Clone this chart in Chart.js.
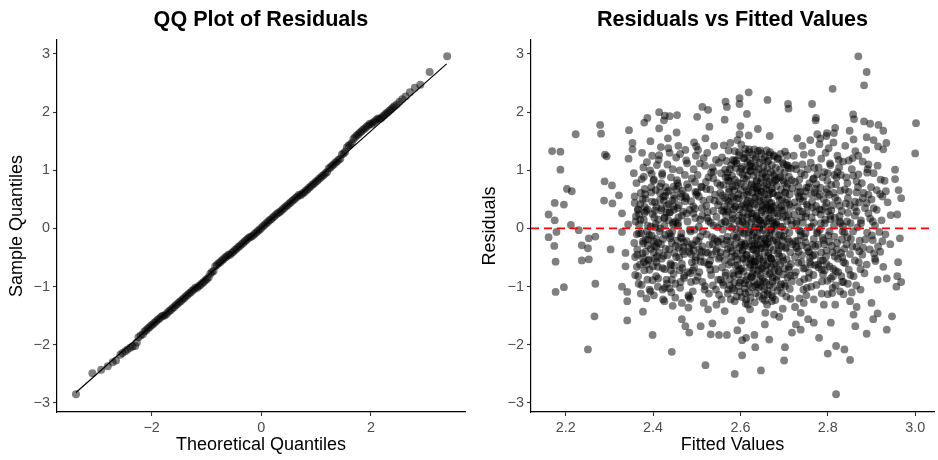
<!DOCTYPE html>
<html>
<head>
<meta charset="utf-8">
<title>Residual diagnostics</title>
<script src="https://cdn.jsdelivr.net/npm/chart.js@4.4.1/dist/chart.umd.min.js"></script>
<style>
  html, body { margin: 0; padding: 0; background: #ffffff; }
  #wrap { position: relative; width: 938px; height: 460px; overflow: hidden; }
  canvas { position: absolute; top: 0; }
  #qqChart { left: 0; }
  #residChart { left: 469px; }
</style>
</head>
<body>
<div id="wrap">
  <canvas id="qqChart" width="469" height="460"></canvas>
  <canvas id="residChart" width="469" height="460"></canvas>
</div>
<script>
const FONT = "'Liberation Sans', Arial, Helvetica, sans-serif";
const MINUS = '\u2212';

// Tick labels
const qqXTicks = [-2, 0, 2];
const yTicks = [-3, -2, -1, 0, 1, 2, 3];
const fitXTicks = [2.2, 2.4, 2.6, 2.8, 3.0];

// Axis limits (ggplot adds 5% on each side)
const qqXRange = [-3.726, 3.715];
const yRange = [-3.155, 3.24];
const fitXRange = [2.1207, 3.0431];

// QQ reference line
const qqLineX = [-3.38, 3.38];
const qqLineY = [-2.82, 2.83];

// Zero line on the residual plot
const zeroLineX = [2.1207, 3.0431];
const zeroLineY = [0, 0];

// QQ points: theoretical vs sample quantiles
const qqTheory = [
  -3.38,-3.08,-2.92,-2.80,-2.71,-2.65,-2.57,-2.53,-2.48,-2.44,
  -2.39,-2.35,-2.30,-2.27,-2.24,-2.20,-2.16,
  -2.13,-2.10,-2.07,-2.04,-2.01,-1.98,-1.95,-1.92,-1.89,-1.86,
  -1.83,-1.80,-1.77,-1.74,-1.71,-1.68,-1.65,-1.62,-1.59,-1.56,
  -1.53,-1.50,-1.47,-1.44,-1.41,-1.38,-1.35,-1.32,-1.29,-1.26,
  -1.23,-1.20,-1.17,-1.14,-1.11,-1.08,-1.05,-1.02,-0.99,-0.96,
  -0.93,-0.90,-0.87,-0.84,-0.81,-0.78,-0.75,-0.72,-0.69,-0.66,
  -0.63,-0.60,-0.57,-0.54,-0.51,-0.48,-0.45,-0.42,-0.39,-0.36,
  -0.33,-0.30,-0.27,-0.24,-0.21,-0.18,-0.15,-0.12,-0.09,-0.06,
  -0.03,0.00,0.03,0.06,0.09,0.12,0.15,0.18,0.21,0.24,
  0.27,0.30,0.33,0.36,0.39,0.42,0.45,0.48,0.51,0.54,
  0.57,0.60,0.63,0.66,0.69,0.72,0.75,0.78,0.81,0.84,
  0.87,0.90,0.93,0.96,0.99,1.02,1.05,1.08,1.11,1.14,
  1.17,1.20,1.23,1.26,1.29,1.32,1.35,1.38,1.41,1.44,
  1.47,1.50,1.53,1.56,1.59,1.62,1.65,1.68,1.71,1.74,
  1.77,1.80,1.83,1.86,1.89,1.92,1.95,1.98,2.01,2.04,
  2.07,2.10,2.13,2.16,2.19,2.22,2.25,2.28,2.31,2.34,
  2.37,2.40,
  2.43,2.47,2.52,2.57,2.63,2.71,2.80,2.90,3.07,3.39
];
const qqSample = [
  -2.85,-2.49,-2.43,-2.37,-2.30,-2.27,-2.17,-2.14,-2.11,-2.08,
  -2.05,-2.03,-2.02,-1.96,-1.87,-1.84,-1.82,
  -1.77,-1.75,-1.72,-1.70,-1.67,-1.65,-1.62,-1.60,-1.57,-1.55,
  -1.52,-1.50,-1.50,-1.48,-1.45,-1.42,-1.40,-1.37,-1.35,-1.32,
  -1.30,-1.27,-1.25,-1.22,-1.20,-1.17,-1.15,-1.12,-1.10,-1.07,
  -1.05,-1.02,-1.02,-0.99,-0.97,-0.94,-0.92,-0.89,-0.87,-0.84,
  -0.78,-0.75,-0.73,-0.65,-0.63,-0.60,-0.58,-0.55,-0.53,-0.50,
  -0.48,-0.45,-0.45,-0.42,-0.40,-0.37,-0.35,-0.32,-0.30,-0.27,
  -0.25,-0.22,-0.20,-0.17,-0.15,-0.14,-0.12,-0.09,-0.07,-0.04,
  -0.02,0.01,0.04,0.06,0.09,0.11,0.14,0.16,0.19,0.21,
  0.24,0.26,0.28,0.30,0.33,0.35,0.38,0.40,0.43,0.45,
  0.48,0.50,0.53,0.55,0.58,0.57,0.60,0.62,0.65,0.67,
  0.70,0.72,0.75,0.77,0.80,0.82,0.85,0.87,0.90,0.92,
  0.95,0.97,1.03,1.05,1.08,1.10,1.13,1.15,1.18,1.20,
  1.27,1.29,1.32,1.39,1.42,1.44,1.47,1.54,1.57,1.60,
  1.62,1.65,1.67,1.70,1.72,1.75,1.77,1.80,1.79,1.82,
  1.84,1.87,1.89,1.88,1.90,1.93,1.95,1.98,2.00,2.03,
  2.05,2.08,
  2.10,2.13,2.18,2.22,2.27,2.34,2.42,2.47,2.69,2.96
];

// Residuals vs fitted values
const fitted = [
  // far left
  2.161,2.161,2.169,2.188,2.188,2.175,2.196,2.175,2.179,2.174,
  2.177,2.177,2.196,2.203,2.214,2.223,2.212,2.230,2.237,2.237,
  2.251,2.253,2.253,2.268,2.268,2.266,2.251,2.279,2.281,2.290,
  2.294,2.289,2.288,2.306,2.307,2.303,2.322,2.329,2.329,2.337,
  2.341,2.341,2.341,2.337,2.344,2.345,2.353,2.353,2.329,2.343,
  // upper edge
  2.870,2.889,2.883,2.811,2.817,2.814,2.619,2.598,2.598,2.615,
  2.566,2.569,2.564,2.662,2.709,2.710,2.764,2.773,2.772,2.858,
  2.860,2.883,2.927,2.916,3.002,3.000,2.501,2.513,2.526,2.529,
  2.414,2.427,2.438,2.455,2.425,2.387,2.380,2.598,2.600,2.619,
  2.640,2.667,2.859,2.798,2.783,2.797,2.889,2.934,2.915,2.927,
  2.888,2.863,
  // right and lower edge
  2.954,2.954,2.968,2.962,2.959,2.965,2.923,2.943,2.961,2.959,
  2.968,2.957,2.927,2.914,2.935,2.947,2.935,2.900,2.914,2.904,
  2.889,2.863,2.859,2.851,2.866,2.851,2.838,2.819,2.800,2.819,
  2.807,2.780,2.768,2.738,2.727,2.718,2.702,2.700,2.689,2.677,
  2.666,2.647,2.634,2.632,2.622,2.604,2.604,2.613,2.602,2.593,
  2.587,2.569,2.551,2.532,2.536,2.520,2.509,2.443,2.483,2.474,
  2.466,2.399,2.377,2.445,2.466,2.481,2.485,2.426,2.564,2.587,
  2.557,2.545,2.526,2.516,2.656,2.657,2.672,2.738,2.755,2.745,
  2.768,2.791,2.800,2.810,2.817,2.836,
  // right band
  2.855,2.870,2.878,2.890,2.893,2.900,2.905,2.912,2.920,2.925,
  2.933,2.937,2.944,2.930,2.880,2.866,2.872,2.885,2.897,2.908,
  2.918,2.925,2.932,2.915,2.903,2.890,2.876,2.862,2.851,2.848,
  2.845,2.858,2.866,2.879,2.889,2.896,2.908,2.920,2.875,2.862,
  2.852,2.865,2.875,2.855,2.846,2.840,2.838,2.845,2.844,2.880,
  2.870,2.893,2.905,2.914,2.848,2.840,2.905,2.897,2.850,
  // 2.72 - 2.84
  2.722,2.728,2.725,2.731,2.724,2.735,2.729,2.738,2.726,2.733,
  2.740,2.727,2.736,2.744,2.742,2.747,2.751,2.745,2.754,2.749,
  2.757,2.746,2.753,2.759,2.748,2.756,2.762,2.751,2.763,2.766,
  2.770,2.764,2.772,2.768,2.775,2.765,2.771,2.778,2.767,2.774,
  2.781,2.785,2.779,2.788,2.783,2.791,2.786,2.794,2.782,2.790,
  2.797,2.784,2.793,2.799,2.786,2.802,2.805,2.800,2.808,2.803,
  2.811,2.806,2.814,2.801,2.809,2.816,2.804,2.812,2.818,2.822,
  2.826,2.820,2.829,2.823,2.832,2.827,2.834,2.821,2.830,2.836,
  2.824,2.833,2.828,2.830,2.835,2.776,2.760,2.742,2.730,2.795,
  2.813,2.758,2.739,2.743,2.761,2.777,2.797,2.815,2.789,2.735,
  2.725,
  // 2.35 - 2.50
  2.356,2.362,2.358,2.365,2.360,2.368,2.357,2.364,2.370,2.359,
  2.367,2.372,2.363,2.375,2.378,2.374,2.381,2.376,2.384,2.379,
  2.386,2.377,2.383,2.389,2.380,2.387,2.392,2.385,2.394,2.398,
  2.393,2.401,2.396,2.404,2.399,2.406,2.397,2.403,2.409,2.400,
  2.407,2.411,2.402,2.414,2.418,2.413,2.421,2.416,2.424,2.419,
  2.426,2.417,2.423,2.429,2.420,2.427,2.431,2.422,2.434,2.438,
  2.433,2.441,2.436,2.444,2.439,2.446,2.437,2.443,2.449,2.440,
  2.447,2.451,2.442,2.454,2.458,2.453,2.461,2.456,2.464,2.459,
  2.466,2.457,2.463,2.469,2.460,2.467,2.471,2.462,2.474,2.478,
  2.473,2.481,2.476,2.484,2.479,2.486,2.477,2.483,2.489,2.480,
  2.487,2.491,2.482,2.494,2.498,2.493,2.496,2.499,2.492,2.497,
  2.495,2.499,2.493,2.497,2.491,2.498,2.371,2.388,2.408,2.425,
  2.452,2.468,2.385,2.412,2.432,2.448,2.366,2.395,
  // 2.50 - 2.55
  2.503,2.507,2.502,2.510,2.505,2.512,2.508,2.514,2.504,2.511,
  2.517,2.506,2.513,2.518,2.520,2.524,2.519,2.527,2.522,2.530,
  2.525,2.532,2.523,2.529,2.535,2.526,2.533,2.537,2.528,2.540,
  2.544,2.539,2.547,2.542,2.549,2.545,2.548,2.541,2.546,2.550,
  2.543,2.549,2.544,2.538,2.515,2.531,2.521,2.547,2.509,2.536,
  // dense core 2.55 - 2.72
  2.551,2.554,2.552,2.556,2.550,2.553,2.555,2.551,2.554,
  2.558,2.556,2.559,2.557,2.560,2.555,2.558,2.561,2.557,
  2.562,2.565,2.561,2.563,2.566,2.562,2.564,2.560,2.565,
  2.568,2.566,2.569,2.567,2.570,2.568,2.566,2.571,2.569,
  2.573,2.571,2.574,2.572,2.575,2.571,2.573,2.576,2.572,
  2.577,2.579,2.576,2.578,2.580,2.577,2.579,2.576,2.578,
  2.583,2.581,2.584,2.582,2.585,2.581,2.583,2.586,2.582,
  2.587,2.589,2.586,2.588,2.590,2.587,2.589,2.586,2.588,
  2.593,2.591,2.594,2.592,2.595,2.591,2.593,2.596,2.592,
  2.597,2.599,2.596,2.598,2.600,2.597,2.599,2.596,2.598,
  2.602,2.604,2.601,2.603,2.605,2.602,2.604,2.601,2.603,
  2.607,2.605,2.608,2.606,2.609,2.605,2.607,2.610,2.606,
  2.611,2.613,2.610,2.612,2.614,2.611,2.613,2.610,2.612,
  2.616,2.614,2.617,2.615,2.618,2.614,2.616,2.619,2.615,
  2.620,2.622,2.619,2.621,2.623,2.620,2.622,2.619,2.621,
  2.624,2.626,2.623,2.625,2.627,2.624,2.626,2.623,2.625,
  2.628,2.630,2.627,2.629,2.631,2.628,2.630,2.627,2.629,
  2.632,2.634,2.631,2.633,2.635,2.632,2.634,2.631,2.633,
  2.636,2.638,2.635,2.637,2.639,2.636,2.638,2.635,2.637,
  2.640,2.642,2.639,2.641,2.643,2.640,2.642,2.639,2.641,
  2.644,2.646,2.643,2.645,2.647,2.644,2.646,2.643,2.645,
  2.648,2.650,2.647,2.649,2.651,2.648,2.650,2.647,2.649,
  2.652,2.654,2.651,2.653,2.655,2.652,2.654,2.651,2.653,
  2.656,2.658,2.655,2.657,2.659,2.656,2.658,2.655,2.657,
  2.660,2.662,2.659,2.661,2.663,2.660,2.662,2.659,2.661,
  2.664,2.666,2.663,2.665,2.667,2.664,2.666,2.663,2.665,
  2.668,2.670,2.667,2.669,2.671,2.668,2.670,2.667,2.669,
  2.672,2.674,2.671,2.673,2.675,2.672,2.674,2.671,2.673,
  2.676,2.678,2.675,2.677,2.679,2.676,2.678,2.675,2.677,
  2.681,2.683,2.680,2.682,2.684,2.681,2.683,2.680,2.682,
  2.686,2.688,2.685,2.687,2.689,2.686,2.688,2.685,2.687,
  2.691,2.693,2.690,2.692,2.694,2.691,2.693,2.690,2.692,
  2.696,2.698,2.695,2.697,2.699,2.696,2.698,2.695,2.697,
  2.701,2.703,2.700,2.702,2.704,2.701,2.703,2.700,2.702,
  2.706,2.708,2.705,2.707,2.709,2.706,2.708,2.705,2.707,
  2.711,2.713,2.710,2.712,2.714,2.711,2.713,2.710,2.712,
  2.716,2.718,2.715,2.717,2.719,2.716,2.718,2.715,2.717,
  // extra core points
  2.583,2.641,2.612,2.667,2.598,2.704,2.627,2.655,2.574,2.689,
  2.619,2.662,2.591,2.678,2.605,2.637,2.711,2.569,2.648,2.624,
  2.685,2.596,2.657,2.613,2.672,2.633,2.701,2.579,2.645,2.616,
  2.694,2.606,2.668,2.587,2.652,2.628,2.716,2.561,2.639,2.674,
  2.601,2.659,2.622,2.692,2.582,2.646,2.609,2.681,2.634,2.665,
  2.593,2.706,2.618,2.651,2.576,2.687,2.629,2.661,2.603,2.643,
  2.698,2.614,2.671,2.588,2.654,2.625,2.709,2.566,2.636,2.679,
  2.597,2.663,2.611,2.683,2.631,2.649,2.592,2.713,2.621,2.669,
  2.604,2.638,2.676,2.585,2.658,2.617,2.696,2.642,2.573,2.666,
  2.608,2.653,2.626,2.688,2.599,2.644,2.703,2.615,2.673,2.635,
  2.581,2.661,2.623,2.693,2.602,2.647,2.578,2.684,2.632,2.656,
  2.610,2.699,2.589,2.668,2.628,2.707,2.642,2.594,2.675,2.619,
  2.657,2.571,2.636,2.686,2.607,2.664,2.624,2.714,2.584,2.650,
  2.613,2.677,2.639,2.597,2.691,2.630,2.660,2.572,2.620,2.695,
  2.603,2.652,2.580,2.670,2.637,2.615,2.682,2.595,2.645,2.702,
  2.627,2.659,2.586,2.674,2.611,2.640,2.697,2.564,2.633,2.666,
  // extra points 2.36 - 2.55
  2.372,2.418,2.455,2.392,2.436,2.487,2.409,2.463,2.381,2.522,
  2.441,2.398,2.476,2.364,2.429,2.508,2.451,2.415,2.538,2.386,
  2.469,2.427,2.497,2.403,2.459,2.377,2.531,2.445,2.412,2.484,
  2.368,2.421,2.516,2.439,2.394,2.473,2.457,2.406,2.544,2.489,
  2.433,2.379,2.502,2.448,2.419,2.466,2.389,2.527,2.435,2.481,
  2.401,2.456,2.512,2.374,2.443,2.492,2.426,2.537,2.462,2.411,
  2.383,2.471,2.519,2.431,2.397,2.453,2.505,2.423,2.478,2.541,
  2.366,2.447,2.494,2.414,2.465,2.388,2.533,2.438,2.499,2.407,
  2.361,2.404,2.447,2.383,2.428,2.471,2.395,2.452,2.376,2.513,
  2.437,2.391,2.468,2.358,2.422,2.501,2.444,2.408,2.529,2.379,
  2.461,2.416,2.489,2.399,2.453,2.371,2.524,2.437,2.405,2.477,
  2.363,2.414,2.509,2.432,2.387,2.466,2.449,2.401,2.539,2.482,
  2.426,2.373,2.496,2.441,2.412,2.458,2.382,2.521,2.428,2.474,
  2.396,2.449,2.506,2.368,2.436,2.485,2.419,2.531,2.455,2.404,
  2.377,2.464,2.513,2.424,2.391,2.446,2.498,2.416,2.471,2.535,
  2.359,2.441,2.487,2.407,2.458,2.381,2.526,2.431,2.492,2.402,
  // extra points 2.72 - 2.93
  2.731,2.788,2.846,2.756,2.812,2.893,2.741,2.769,2.827,2.872,
  2.724,2.797,2.858,2.749,2.806,2.884,2.763,2.821,2.735,2.779,
  2.866,2.752,2.839,2.728,2.792,2.906,2.771,2.817,2.745,2.853,
  2.784,2.733,2.899,2.762,2.831,2.796,2.743,2.876,2.808,2.757,
  2.843,2.726,2.787,2.862,2.774,2.815,2.738,2.891,2.766,2.835,
  2.799,2.751,2.871,2.729,2.825,2.781,2.912,2.759,2.804,2.848,
  2.737,2.793,2.882,2.768,2.819,2.746,2.857,2.785,2.723,2.833,
  2.773,2.901,2.811,2.754,2.868,2.798,2.734,2.842,2.777,2.921,
  2.727,2.781,2.838,2.752,2.806,2.873,2.744,2.768,2.823,2.862,
  2.733,2.792,2.851,2.758,2.813,2.889,2.771,2.827,2.739,2.784,
  2.859,2.748,2.832,2.725,2.797,2.903,2.776,2.818,2.741,2.846,
  2.789,2.736,2.881,2.764,2.829,2.801,2.749,2.869,2.811,2.761,
  2.841,2.731,2.794,2.856,2.778,2.822,2.742,2.886,2.772,2.836,
  2.803,2.756,2.866,2.734,2.816,2.786,2.909,2.763,2.807,2.852
];
const resid = [
  // far left
  0.24,-0.15,1.33,1.32,1.01,0.44,0.41,0.14,-0.06,-0.30,
  -0.57,-1.09,-1.01,0.68,0.64,1.62,0.06,-0.03,-0.29,-0.55,
  -0.34,-0.17,-0.53,-0.14,-0.95,-1.51,-2.08,1.78,1.63,1.27,
  1.24,0.81,0.48,0.74,0.43,-0.36,0.57,0.26,-1.00,-0.42,
  -1.09,-1.25,-1.58,-0.65,1.20,1.69,1.47,1.36,-0.06,0.07,
  // upper edge
  2.96,2.69,2.46,2.40,1.73,1.64,2.34,2.24,2.14,1.97,
  2.18,2.09,1.87,2.21,2.14,2.06,2.14,1.90,1.86,1.96,
  1.88,1.84,1.68,1.78,1.81,1.29,1.92,2.09,2.04,1.75,
  2.00,1.94,1.93,1.95,1.86,1.90,1.82,1.62,1.76,1.60,
  1.71,1.59,1.53,1.64,1.55,1.59,1.57,1.47,1.41,1.36,
  1.35,1.33,
  // right and lower edge
  1.01,0.85,0.52,0.66,0.24,-0.17,0.14,-0.27,-0.58,-0.82,
  -0.92,-1.00,-0.66,-0.88,-0.86,-1.51,-1.74,-1.28,-1.46,-1.56,
  -1.81,-1.68,-1.48,-1.25,-1.35,-2.26,-2.08,-2.02,-2.15,-2.85,
  -1.62,-1.88,-1.62,-1.74,-1.65,-1.79,-2.04,-2.27,-1.52,-1.48,
  -1.91,-2.44,-2.04,-1.83,-1.39,-2.18,-1.92,-1.88,-1.58,-1.75,
  -2.50,-1.83,-1.83,-1.82,-1.63,-2.35,-1.68,-2.12,-1.79,-1.68,
  -1.56,-1.83,-1.43,-1.33,-1.28,-1.36,-1.21,-1.25,-1.42,-1.25,
  -1.22,-1.31,-1.39,-1.28,-1.65,-1.45,-1.25,-1.45,-1.56,-1.28,
  -1.22,-1.31,-1.13,-1.11,-1.31,-1.13,
  // right band
  1.02,0.93,0.78,0.96,0.58,0.50,0.35,0.66,0.59,0.55,
  0.64,0.45,0.23,0.82,0.52,0.62,0.45,0.35,0.17,0.05,
  -0.06,-0.22,-0.10,-0.31,-0.20,-0.07,0.09,0.22,0.40,0.63,
  0.78,-0.05,-0.32,-0.45,-0.62,-0.36,-0.52,-0.40,-0.70,-0.55,
  -0.80,-0.98,-1.05,-1.10,-0.95,-0.60,-0.35,-0.15,0.12,1.15,
  1.25,1.10,0.95,1.08,1.17,1.42,1.52,1.80,1.68,
  // 2.72 - 2.84
  1.25,1.02,0.80,0.62,0.45,0.30,0.12,-0.05,-0.22,-0.40,
  -0.58,-0.75,-0.92,-1.05,1.10,0.92,0.70,0.55,0.38,0.20,
  0.02,-0.15,-0.33,-0.50,-0.68,-0.85,-1.00,-1.15,1.30,0.85,
  0.62,0.46,0.28,0.10,-0.08,-0.28,-0.45,-0.62,-0.80,-0.97,
  1.45,1.20,1.05,0.88,0.70,0.50,0.32,0.15,-0.02,-0.20,
  -0.38,-0.55,-0.72,-0.90,-1.12,1.38,1.12,0.95,0.75,0.58,
  0.40,0.22,0.05,-0.12,-0.30,-0.48,-0.65,-0.82,-0.98,1.25,
  1.05,0.88,0.65,0.48,0.30,0.12,-0.05,-0.25,-0.42,-0.58,
  -0.75,-0.92,-1.08,0.92,1.15,1.62,1.52,1.42,1.55,1.30,
  1.48,0.78,0.95,0.10,-0.62,0.55,0.62,0.92,-0.55,-1.20,
  -1.35,
  // 2.35 - 2.50
  0.95,0.78,0.55,0.32,0.12,-0.08,-0.25,-0.45,-0.62,-0.80,
  -0.95,-1.12,-0.10,1.30,1.05,0.85,0.68,0.50,0.30,0.15,
  -0.05,-0.22,-0.40,-0.55,-0.72,-0.88,-1.05,-1.20,1.50,1.25,
  1.00,0.82,0.62,0.45,0.25,0.08,-0.12,-0.30,-0.48,-0.65,
  -0.82,-1.00,-1.15,1.72,1.40,1.18,0.95,0.72,0.55,0.35,
  0.18,0.00,-0.18,-0.35,-0.52,-0.70,-0.88,-1.05,1.55,1.30,
  1.10,0.88,0.65,0.48,0.28,0.10,-0.08,-0.25,-0.42,-0.60,
  -0.78,-0.95,-1.10,1.65,1.42,1.22,1.00,0.78,0.60,0.40,
  0.22,0.05,-0.15,-0.32,-0.50,-0.68,-0.85,-1.02,1.35,1.12,
  0.92,0.70,0.52,0.32,0.12,-0.05,-0.22,-0.40,-0.58,-0.75,
  -0.92,-1.08,-1.18,1.48,1.25,1.02,0.80,0.58,0.38,0.18,
  -0.02,-0.20,-0.38,-0.55,-0.72,-0.90,0.42,0.05,-0.58,0.48,
  -0.30,0.65,-0.62,0.15,-0.95,0.32,-0.82,-0.35,
  // 2.50 - 2.55
  1.35,1.12,0.92,0.72,0.55,0.35,0.15,-0.05,-0.22,-0.40,
  -0.58,-0.75,-0.92,-1.05,1.55,1.30,1.08,0.88,0.68,0.50,
  0.28,0.10,-0.10,-0.28,-0.45,-0.62,-0.80,-0.98,-1.12,1.42,
  1.18,0.98,0.78,0.58,0.40,0.20,0.02,-0.18,-0.35,-0.52,
  -0.70,-0.88,-1.05,0.30,0.48,-0.55,0.80,-0.22,-0.48,1.05,
  // dense core 2.55 - 2.72
  1.13,0.74,0.47,0.09,-0.23,-0.49,-0.88,-1.14,0.61,
  1.22,0.95,0.57,0.31,-0.02,-0.41,-0.67,-0.97,-0.18,
  1.43,1.01,0.75,0.37,0.11,-0.27,-0.55,-0.93,0.53,
  1.16,0.88,0.49,0.23,-0.14,-0.43,-0.81,-1.12,0.33,
  1.34,0.96,0.68,0.29,0.03,-0.35,-0.62,-0.98,0.82,
  1.47,1.09,0.81,0.42,0.14,-0.22,-0.49,-0.87,-1.22,
  1.18,0.91,0.53,0.24,-0.12,-0.39,-0.77,-1.06,0.72,
  1.33,1.04,0.66,0.37,-0.01,-0.28,-0.64,-0.93,-0.47,
  1.52,1.17,0.79,0.51,0.13,-0.16,-0.53,-0.79,-1.17,
  1.26,0.97,0.59,0.33,-0.04,-0.33,-0.71,-0.99,0.08,
  1.44,1.06,0.77,0.39,0.12,-0.24,-0.52,-0.89,-1.18,
  1.21,0.93,0.56,0.27,-0.09,-0.37,-0.74,-1.03,0.42,
  1.37,1.01,0.72,0.36,0.07,-0.29,-0.58,-0.94,-1.29,
  1.14,0.84,0.48,0.19,-0.17,-0.46,-0.82,-1.09,0.66,
  1.31,0.99,0.63,0.34,-0.02,-0.31,-0.67,-0.96,1.07,
  1.11,0.76,0.46,0.11,-0.21,-0.54,-0.83,-1.19,0.26,
  1.27,0.91,0.62,0.26,-0.07,-0.36,-0.71,-1.01,-0.56,
  1.36,1.07,0.71,0.41,0.06,-0.26,-0.57,-0.91,-1.27,
  1.19,0.83,0.54,0.19,-0.13,-0.44,-0.79,-1.11,0.69,
  1.33,1.02,0.66,0.36,0.01,-0.29,-0.63,-0.96,0.16,
  1.13,0.79,0.49,0.14,-0.19,-0.51,-0.81,-1.16,-0.34,
  1.29,0.94,0.63,0.31,-0.03,-0.34,-0.69,-0.99,0.86,
  1.06,0.73,0.39,0.09,-0.26,-0.57,-0.91,-1.21,0.51,
  1.23,0.89,0.59,0.24,-0.09,-0.41,-0.73,-1.04,-0.21,
  1.34,1.03,0.69,0.39,0.04,-0.27,-0.61,-0.93,-1.31,
  1.16,0.81,0.51,0.17,-0.16,-0.47,-0.79,-1.13,0.31,
  1.31,0.97,0.66,0.33,-0.01,-0.33,-0.66,-0.97,-0.51,
  1.09,0.79,0.44,0.13,-0.21,-0.53,-0.84,-1.14,0.61,
  1.26,0.91,0.61,0.27,-0.06,-0.37,-0.71,-1.01,0.09,
  1.04,0.73,0.39,0.07,-0.24,-0.59,-0.89,-1.23,0.84,
  1.21,0.87,0.56,0.21,-0.11,-0.43,-0.74,-1.07,-0.29,
  1.01,0.67,0.36,0.03,-0.31,-0.61,-0.96,0.49,1.28,
  1.14,0.83,0.49,0.19,-0.14,-0.49,-0.79,-1.11,-1.38,
  0.96,0.61,0.31,-0.03,-0.34,-0.69,-0.99,0.79,1.32,
  1.09,0.77,0.44,0.13,-0.19,-0.53,-0.84,-1.17,1.25,
  0.89,0.59,0.24,-0.07,-0.41,-0.71,-1.04,1.04,0.41,
  1.03,0.69,0.37,0.06,-0.27,-0.61,-0.91,-1.21,0.83,
  // extra core points
  0.17,-0.72,1.28,0.44,-0.93,0.21,-0.11,0.97,0.63,-0.48,
  0.36,-1.07,1.12,0.05,-0.39,0.81,-0.66,-0.21,0.28,-0.84,
  1.19,0.52,-0.31,-1.22,0.69,0.02,-0.95,-0.58,1.34,0.91,
  0.38,-0.07,-0.77,0.84,-0.54,1.06,0.14,0.29,-0.27,-1.18,
  0.66,0.12,-0.62,0.89,-1.03,0.47,1.21,-0.19,-0.99,0.58,
  -0.15,0.71,0.24,-0.86,1.02,-0.37,0.43,1.15,-0.69,-0.02,
  -0.56,-0.45,0.31,0.39,-1.14,0.74,1.08,-0.76,-0.38,0.82,
  1.31,-0.24,0.07,-0.83,-0.64,0.63,-0.43,-0.23,1.17,-0.03,
  0.19,0.96,-0.61,-0.81,0.35,-1.31,0.03,-0.47,0.46,1.27,
  0.86,-0.17,-0.29,0.57,-1.09,0.14,-0.32,0.58,-0.91,1.23,
  0.01,0.76,-0.51,-0.12,1.03,-0.68,-0.33,0.26,0.53,-1.24,
  -0.26,1.11,0.73,0.18,-0.78,0.49,-1.02,-0.63,0.93,-0.06,
  0.41,0.88,0.22,-0.71,-0.52,-0.42,0.99,-0.81,0.33,0.07,
  -0.89,1.24,0.61,0.22,-1.01,-0.36,0.87,-1.05,1.36,0.31,
  -0.28,1.18,0.55,-0.51,-0.16,0.44,0.11,-0.73,-0.92,0.62,
  0.17,-0.64,1.16,0.37,-1.11,0.72,-0.21,0.12,-0.57,-0.12,
  // extra points 2.36 - 2.55
  0.61,-0.27,0.83,-0.71,0.14,-0.44,1.09,-0.92,0.27,0.39,
  -0.63,0.46,1.17,-0.36,0.71,-0.14,-1.19,-0.05,0.86,1.14,
  0.29,-1.02,0.63,0.19,-0.33,-0.51,-0.71,1.02,-0.86,-0.02,
  0.07,0.92,1.21,-0.17,-1.08,0.47,0.09,0.66,-0.39,0.86,
  -0.46,0.89,-0.83,0.57,0.31,-0.61,-0.19,0.13,1.38,-1.15,
  -0.41,0.35,0.71,-0.97,-0.88,0.26,0.05,-0.27,1.28,-0.66,
  0.51,-0.24,-0.99,0.39,0.94,-0.49,0.03,-1.22,0.76,0.48,
  0.33,0.72,-0.67,1.26,-0.08,-0.29,0.96,-1.03,1.41,-0.18,
  0.21,-0.52,0.38,-0.19,0.56,-0.81,0.03,0.12,-0.43,-0.31,
  0.27,-0.11,-0.39,0.44,-0.68,0.62,-0.05,0.37,-0.62,-0.58,
  -0.72,0.49,-0.27,-0.89,0.68,0.15,0.18,-0.36,0.02,0.26,
  -0.66,-0.41,-0.57,0.63,0.33,-0.17,0.51,-0.22,0.05,-0.33,
  0.18,-0.08,0.34,-0.72,-0.25,0.19,0.59,-0.41,-0.11,0.55,
  0.71,-0.64,-0.36,0.24,0.42,-0.77,0.78,0.67,-0.21,0.31,
  -0.26,0.54,0.22,-0.47,-0.53,0.07,-0.49,0.61,-0.44,-0.15,
  -0.49,-0.13,0.47,-0.31,0.73,0.37,-0.42,0.27,-0.29,0.84,
  // extra points 2.72 - 2.93
  0.37,-0.16,0.52,0.71,-0.69,0.26,-0.46,1.04,0.21,-0.39,
  -0.81,0.44,0.91,-0.24,1.09,-0.77,0.19,-0.36,0.84,-0.67,
  0.29,-1.02,0.67,0.08,0.97,-0.43,-0.31,0.53,1.27,-0.18,
  0.24,-0.59,0.71,0.59,-0.82,-0.48,0.47,0.14,0.31,-0.76,
  -0.27,1.09,-0.91,0.46,0.76,-0.14,-0.12,1.02,-0.47,0.04,
  0.82,0.26,-0.58,-0.34,1.18,0.33,0.32,-0.58,-0.05,-0.71,
  0.63,0.09,0.61,-0.18,0.76,-0.87,1.21,-0.41,0.24,-0.49,
  0.39,-0.12,-1.02,1.02,0.02,0.68,-0.03,0.88,-0.06,0.84,
  -0.31,0.58,-0.07,0.41,0.16,-0.21,-0.69,0.86,-0.52,0.36,
  0.72,-0.27,-0.44,-0.41,0.61,0.44,-0.63,0.39,0.19,0.09,
  -0.82,0.64,-0.19,-0.49,-0.61,0.12,0.93,-0.73,-0.29,0.27,
  -0.79,0.51,-0.33,0.36,0.09,0.29,-0.08,0.71,-0.41,1.13,
  0.43,-0.21,0.37,-0.31,-0.28,0.97,0.29,-0.19,0.68,-0.92,
  -0.23,-0.39,0.81,0.55,0.18,-0.71,-0.56,0.03,-0.86,0.09
];

// Helpers
function toPoints(xs, ys) {
    return xs.map((x, i) => ({ x: x, y: ys[i] }));
}

function fmtTick(v, digits) {
    const s = Math.abs(v).toFixed(digits);
    return v < 0 ? MINUS + s : s;
}

// Bold panel title centred over the plotting area (ggplot style)
const panelTitle = {
    id: 'panelTitle',
    afterDraw(chart, args, opts) {
        const { ctx, chartArea } = chart;
        ctx.save();
        ctx.font = 'bold 21.6px ' + FONT;
        ctx.fillStyle = '#000000';
        ctx.textAlign = 'center';
        ctx.textBaseline = 'middle';
        ctx.fillText(opts.text, (chartArea.left + chartArea.right) / 2, 20);
        ctx.restore();
    }
};

// Classic-theme axis: black axis line, short ticks, grey labels
function makeScale(range, ticks, digits, title, size, titlePad) {
    return {
        type: 'linear',
        min: range[0],
        max: range[1],
        afterBuildTicks: s => { s.ticks = ticks.map(v => ({ value: v })); },
        afterFit: s => {
            if (s.isHorizontal()) s.height = size;
            else s.width = size;
        },
        grid: {
            display: true,
            drawOnChartArea: false,
            drawTicks: true,
            tickLength: 4,
            tickColor: '#333333',
            tickWidth: 1.1
        },
        border: { display: true, color: '#000000', width: 1.2 },
        ticks: {
            autoSkip: false,
            maxRotation: 0,
            color: '#4d4d4d',
            padding: 3,
            font: { family: FONT, size: 14.4 },
            callback: v => fmtTick(v, digits)
        },
        title: {
            display: true,
            text: title,
            color: '#000000',
            padding: titlePad,
            font: { family: FONT, size: 18 }
        }
    };
}

function baseOptions(titleText, padRight, xScale, yScale) {
    return {
        responsive: false,
        animation: false,
        events: [],
        layout: { padding: { top: 40, right: padRight, bottom: 0, left: 0 } },
        plugins: {
            legend: { display: false },
            tooltip: { enabled: false },
            panelTitle: { text: titleText }
        },
        scales: { x: xScale, y: yScale }
    };
}

// QQ plot
new Chart(document.getElementById('qqChart'), {
    type: 'scatter',
    data: {
        datasets: [
            {
                data: toPoints(qqLineX, qqLineY),
                showLine: true,
                borderColor: '#000000',
                borderWidth: 1.2,
                pointRadius: 0
            },
            {
                data: toPoints(qqTheory, qqSample),
                backgroundColor: 'rgba(0, 0, 0, 0.5)',
                borderWidth: 0,
                pointRadius: 4.0
            }
        ]
    },
    options: baseOptions('QQ Plot of Residuals', 4,
        makeScale(qqXRange, qqXTicks, 0, 'Theoretical Quantiles', 48, { top: 0, bottom: 4.2 }),
        makeScale(yRange, yTicks, 0, 'Sample Quantiles', 57, { top: 6.5, bottom: 0 })),
    plugins: [panelTitle]
});

// Residuals vs fitted
new Chart(document.getElementById('residChart'), {
    type: 'scatter',
    data: {
        datasets: [
            {
                data: toPoints(zeroLineX, zeroLineY),
                showLine: true,
                borderColor: '#ff0000',
                borderWidth: 1.7,
                borderDash: [8, 5],
                pointRadius: 0
            },
            {
                data: toPoints(fitted, resid),
                backgroundColor: 'rgba(0, 0, 0, 0.5)',
                borderWidth: 0,
                pointRadius: 3.9
            }
        ]
    },
    options: baseOptions('Residuals vs Fitted Values', 0,
        makeScale(fitXRange, fitXTicks, 1, 'Fitted Values', 48, { top: 0, bottom: 4.2 }),
        makeScale(yRange, yTicks, 0, 'Residuals', 62, { top: 10.2, bottom: 0 })),
    plugins: [panelTitle]
});
</script>
</body>
</html>
